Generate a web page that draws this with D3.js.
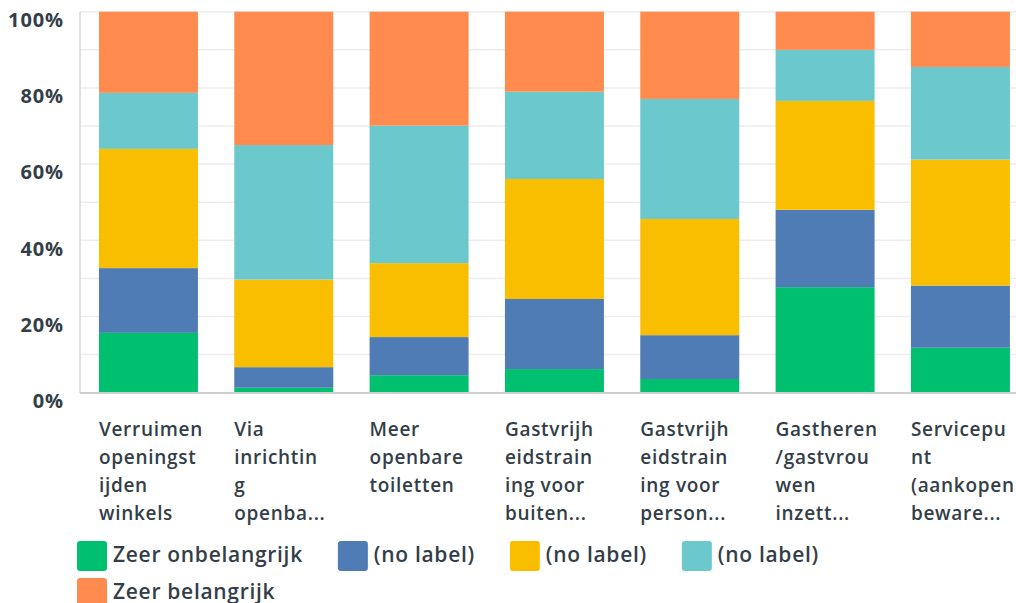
<!DOCTYPE html>
<html>
<head>
<meta charset="utf-8">
<script src="https://cdn.jsdelivr.net/npm/d3@7"></script>
<style>
  body { margin: 0; background: #fff; }
  svg { display: block; font-family: "Open Sans", sans-serif; }
</style>
</head>
<body>
<div id="chart"></div>
<script>
// categories, one entry per bar (as the labels are wrapped in the picture)
const categoryLines = [
    ["Verruimen", "openingst", "ijden", "winkels"],
    ["Via", "inrichtin", "g", "openba..."],
    ["Meer", "openbare", "toiletten"],
    ["Gastvrijh", "eidstrain", "ing voor", "buiten..."],
    ["Gastvrijh", "eidstrain", "ing voor", "person..."],
    ["Gastheren", "/gastvrou", "wen", "inzett..."],
    ["Servicepu", "nt", "(aankopen", "beware..."]
];
const categories = categoryLines.map(l => l.join(" "));

// series (percent of answers)
const seriesNames = ["Zeer onbelangrijk", "(no label)", "(no label) ", "(no label)  ", "Zeer belangrijk"];
const zeerOnbelangrijk = [15.7, 1.3, 4.6, 6.2, 3.6, 27.7, 11.8];
const noLabel2 = [17.0, 5.4, 10.0, 18.4, 11.5, 20.3, 16.3];
const noLabel3 = [31.3, 23.0, 19.4, 31.5, 30.5, 28.6, 33.1];
const noLabel4 = [14.7, 35.3, 36.1, 22.9, 31.5, 13.4, 24.3];
const zeerBelangrijk = [21.3, 35.0, 29.9, 21.0, 22.9, 10.0, 14.5];
const seriesValues = [zeerOnbelangrijk, noLabel2, noLabel3, noLabel4, zeerBelangrijk];
const colors = ["#00bf6f", "#507cb6", "#f9be00", "#6bc8cd", "#ff8b4f"];

const yTicks = [0, 20, 40, 60, 80, 100];
const gridTicks = [0, 10, 20, 30, 40, 50, 60, 70, 80, 90, 100];

const width = 1016, height = 603;
const textColor = "#333e48";

const rows = categories.map((c, i) => {
    const r = { cat: c };
    seriesNames.forEach((s, k) => { r[s] = seriesValues[k][i]; });
    return r;
});

const svg = d3.select("#chart").append("svg")
    .attr("width", width)
    .attr("height", height);

const plotLeft = 80;

const y = d3.scaleLinear()
    .domain([0, 100])
    .range([392.7, 11.7]);

// band scale: step ~135.3, bars ~99 wide, first bar starts at x=99
const step = 135.33, pIn = 0.2685, pOut = 0.14;
const x = d3.scaleBand()
    .domain(categories)
    .range([plotLeft, plotLeft + step * (categories.length - pIn + 2 * pOut)])
    .paddingInner(pIn)
    .paddingOuter(pOut);

// gridlines
svg.append("g")
    .selectAll("line")
    .data(gridTicks.filter(t => t > 0))
    .join("line")
    .attr("x1", plotLeft)
    .attr("x2", width)
    .attr("y1", d => y(d))
    .attr("y2", d => y(d))
    .attr("stroke", "#ededed")
    .attr("stroke-width", 1.5);

// y tick labels
svg.append("g")
    .selectAll("text")
    .data(yTicks)
    .join("text")
    .attr("x", 64)
    .attr("y", d => y(d) + 10)
    .attr("text-anchor", "end")
    .attr("dominant-baseline", "middle")
    .attr("fill", textColor)
    .attr("font-size", 20)
    .attr("font-weight", 700)
    .attr("letter-spacing", 0.9)
    .text(d => d + "%");

// stacked bars
const stack = d3.stack().keys(seriesNames);
const stacked = stack(rows);

svg.append("g")
    .selectAll("g")
    .data(stacked)
    .join("g")
    .attr("fill", (d, i) => colors[i])
    .selectAll("rect")
    .data(d => d)
    .join("rect")
    .attr("x", d => x(d.data.cat))
    .attr("y", d => y(d[1]))
    .attr("width", x.bandwidth())
    .attr("height", d => y(d[0]) - y(d[1]));

// axis lines
svg.append("line")
    .attr("x1", plotLeft).attr("x2", plotLeft)
    .attr("y1", 12).attr("y2", 393)
    .attr("stroke", "#d6d6d6").attr("stroke-width", 1.5);
svg.append("line")
    .attr("x1", plotLeft).attr("x2", width)
    .attr("y1", 393).attr("y2", 393)
    .attr("stroke", "#cfcfcf").attr("stroke-width", 2);

// category labels
const catG = svg.append("g")
    .selectAll("text")
    .data(categoryLines)
    .join("text")
    .attr("x", (d, i) => x(categories[i]))
    .attr("y", 429)
    .attr("fill", textColor)
    .attr("font-size", 19)
    .attr("font-weight", 600)
    .attr("letter-spacing", 0.7);
catG.selectAll("tspan")
    .data(d => d)
    .join("tspan")
    .attr("x", function () { return d3.select(this.parentNode).attr("x"); })
    .attr("dy", (d, i) => i === 0 ? "0.35em" : 28)
    .text(d => d);

// legend, flowing left to right and wrapping
const legend = svg.append("g");
let lx = 77, ly = 541;
const sw = 30, gapText = 6, gapItem = 35, rowH = 37;
seriesNames.forEach((s, i) => {
    const item = legend.append("g");
    item.append("rect")
        .attr("width", sw).attr("height", sw)
        .attr("rx", 3)
        .attr("fill", colors[i]);
    const t = item.append("text")
        .attr("x", sw + gapText)
        .attr("y", sw / 2)
        .attr("dominant-baseline", "middle")
        .attr("fill", textColor)
        .attr("font-size", 21)
        .attr("font-weight", 600)
        .attr("letter-spacing", 0.7)
        .text(s.trim());
    const w = sw + gapText + t.node().getComputedTextLength();
    if (lx + w > width - 10 && lx > 77) {
        lx = 77;
        ly += rowH;
    }
    item.attr("transform", `translate(${lx},${ly})`);
    lx += w + gapItem;
});
</script>
</body>
</html>
